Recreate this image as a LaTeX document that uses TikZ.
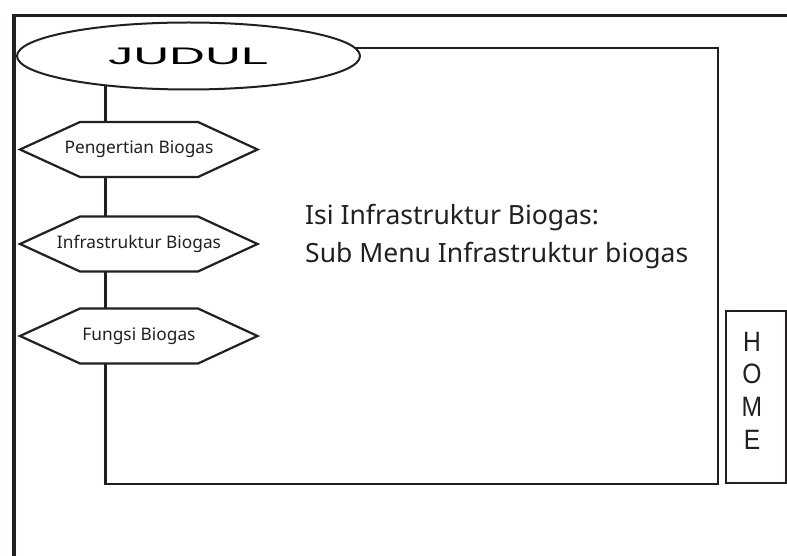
\documentclass[tikz,border=0pt]{standalone}
\usepackage{fontspec}
\setmainfont{Noto Sans}
\newfontfamily\arialfont{Liberation Sans}
\usetikzlibrary{shapes.geometric,backgrounds}

\definecolor{ink}{RGB}{35,31,32}
\newcommand{\narrowletter}[1]{\scalebox{0.88}[1]{#1}}

\tikzset{
  frameline/.style={draw=ink, line width=3.2pt},
  flowline/.style={draw=ink, line width=2.6pt},
  titlebox/.style={ellipse, draw=ink, line width=2pt, fill=white,
    minimum width=343pt, minimum height=67pt, inner sep=0pt},
  menubox/.style={rectangle, inner sep=0pt,
    font=\fontsize{17.3}{20}\selectfont, text=ink},
  hexline/.style={draw=ink, line width=2.2pt, line join=miter, fill=white},
  homebox/.style={rectangle, draw=ink, line width=2.2pt,
    minimum width=60pt, minimum height=172pt, inner sep=0pt},
}

\begin{document}
\begin{tikzpicture}[x=1pt, y=-1pt]
  \useasboundingbox (0,0) rectangle (787,556);

  % page frame
  \draw[frameline] (14,556) -- (14,15.5) -- (790,15.5);

  % title
  \node[titlebox] (judul) at (188.5,56)
    {\arialfont\fontsize{24}{26}\selectfont\scalebox{2.07}[1]{JUDUL}};

  % menu items: hexagon outline first, label on top
  \foreach \y/\name/\txt in {149.5/m1/Pengertian Biogas,
                             244/m2/Infrastruktur Biogas,
                             336/m3/Fungsi Biogas}{
    \draw[hexline] (80,\y-27.5) -- (198,\y-27.5) -- (257.5,\y)
      -- (198,\y+27.5) -- (80,\y+27.5) -- (20,\y) -- cycle;
    \node[menubox] (\name) at (139,\y) {\txt};
  }

  % content text
  \node[anchor=north west, align=left, inner sep=0pt, text=ink,
        font=\fontsize{26.5}{38}\selectfont] (isi) at (305,204)
    {Isi Infrastruktur Biogas:\\Sub Menu Infrastruktur biogas};

  % home button
  \node[homebox] (home) at (756,397) {};
  \node[align=center, inner sep=0pt, text=ink,
        font=\arialfont\fontsize{28}{32.7}\selectfont] (homelabel) at (752,390.5)
    {\narrowletter{H}\\\narrowletter{O}\\\narrowletter{M}\\\narrowletter{E}};

  % flow path and content frame, kept behind the shapes
  \coordinate (spine) at (105.5,0);
  \coordinate (bl) at (105.5,484);
  \coordinate (br) at (718,484);
  \coordinate (tr) at (718,48);
  \coordinate (m1top) at (105.5,122);
  \coordinate (m1bot) at (105.5,177);
  \coordinate (m2top) at (105.5,216.5);
  \coordinate (m2bot) at (105.5,271.5);
  \coordinate (m3top) at (105.5,308.5);
  \coordinate (m3bot) at (105.5,363.5);

  \begin{scope}[on background layer]
    \draw[flowline] (spine |- judul.center) -- (m1top);
    \draw[flowline] (m1bot) -- (m2top);
    \draw[flowline] (m2bot) -- (m3top);
    \draw[flowline, line join=miter] (m3bot) -- (bl) -- (br) -- (tr)
      -- (tr -| judul.center);
  \end{scope}
\end{tikzpicture}
\end{document}
